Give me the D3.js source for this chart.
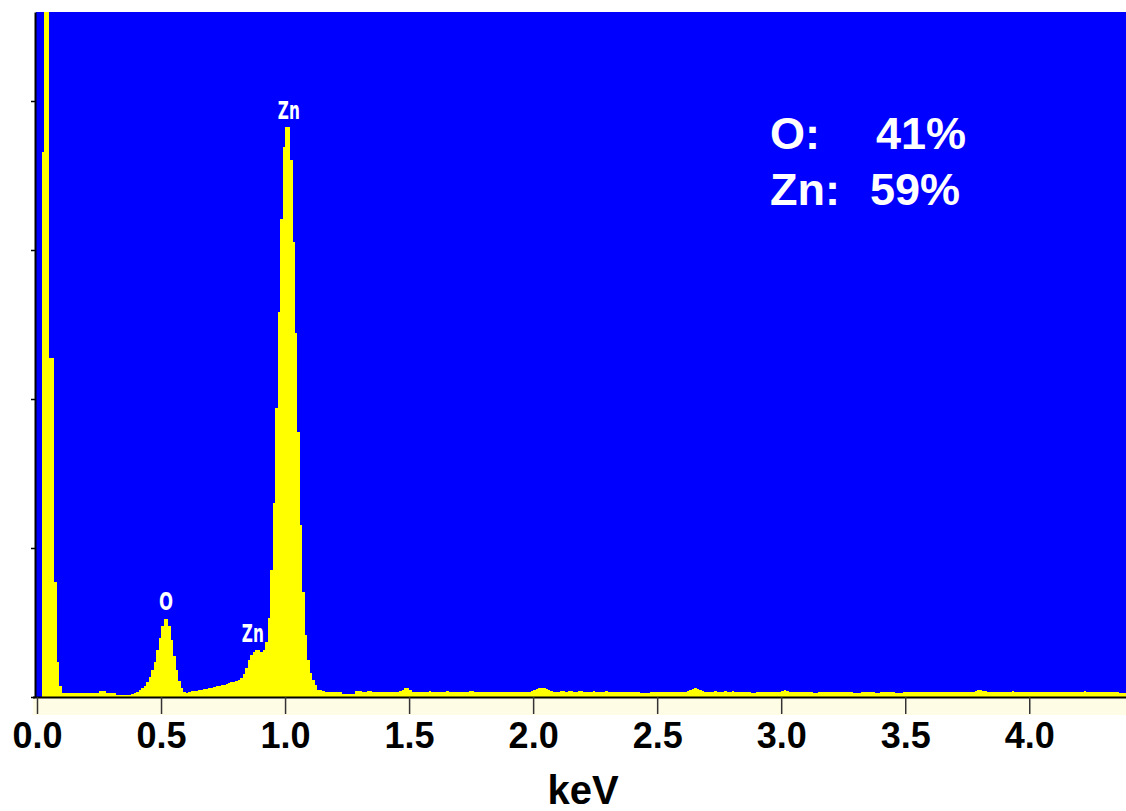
<!DOCTYPE html>
<html>
    <head>
        <meta charset="utf-8">
        <script src="https://d3js.org/d3.v7.min.js"></script>
        <style>
         body { margin: 0; background: #fff; }
         svg { display: block; }
        </style>
    </head>
    <body>
        <div id="viz"></div>

        <script type="text/javascript">

         // channel width of the spectrum, keV
         var channelWidth = 0.01;

         // counts per channel, 0.00 - 1.15 keV
         var countsLow = [
             0, 0, 3657, 9000, 9000, 2275, 2275, 772, 235, 74,
             27, 27, 27, 27, 27, 27, 27, 27, 27, 27,
             27, 27, 27, 27, 27, 40, 40, 40, 27, 27,
             27, 27, 13, 13, 13, 13, 13, 13, 20, 27,
             34, 47, 60, 74, 101, 134, 181, 235, 315, 396,
             477, 523, 523, 477, 383, 275, 181, 107, 60, 34,
             27, 34, 40, 40, 40, 47, 47, 54, 54, 60,
             60, 67, 74, 74, 81, 81, 87, 94, 101, 101,
             107, 114, 128, 154, 195, 248, 282, 302, 315, 315,
             302, 315, 369, 530, 852, 1302, 1939, 2583, 3207, 3691,
             3825, 3825, 3603, 3053, 2442, 1778, 1154, 705, 416, 248,
             161, 114, 81, 47, 47, 40
         ];

         // counts per channel, 1.16 - 4.39 keV (background)
         var countsHigh = [
             34, 34, 34, 34, 34, 34, 34, 20, 20, 20, 20, 20, 40, 40, 40, 34, 34, 40, 40, 34,
             34, 34, 34, 34, 34, 34, 34, 34, 34, 34, 40, 47, 60, 60, 47, 34, 34, 34, 34, 34,
             34, 34, 40, 34, 34, 34, 34, 34, 34, 40, 34, 34, 34, 34, 34, 34, 34, 34, 40, 40,
             34, 34, 34, 34, 34, 34, 34, 34, 34, 34, 34, 34, 34, 34, 34, 34, 34, 34, 34, 34,
             34, 34, 34, 40, 47, 54, 60, 60, 60, 54, 47, 40, 34, 34, 34, 40, 40, 34, 40, 40,
             34, 34, 40, 40, 34, 34, 34, 34, 40, 34, 34, 34, 34, 40, 34, 34, 34, 34, 34, 34,
             34, 34, 34, 34, 34, 34, 34, 27, 27, 27, 27, 34, 34, 34, 34, 34, 34, 34, 34, 34,
             34, 34, 34, 34, 34, 34, 40, 47, 54, 60, 54, 47, 40, 34, 34, 34, 34, 40, 34, 34,
             34, 40, 34, 34, 40, 34, 34, 34, 34, 34, 34, 34, 27, 27, 34, 34, 34, 34, 34, 34,
             34, 34, 34, 34, 40, 47, 40, 34, 34, 34, 34, 34, 34, 34, 34, 34, 34, 27, 27, 34,
             34, 34, 34, 34, 34, 34, 34, 34, 34, 34, 34, 34, 34, 27, 27, 27, 34, 34, 34, 34,
             34, 34, 27, 27, 34, 34, 34, 34, 34, 34, 27, 27, 27, 34, 34, 34, 34, 34, 34, 34,
             34, 34, 34, 34, 34, 34, 34, 34, 34, 34, 34, 34, 34, 34, 34, 34, 34, 34, 34, 34,
             34, 34, 40, 47, 47, 40, 40, 34, 34, 34, 34, 34, 34, 34, 34, 34, 34, 40, 34, 34,
             34, 34, 34, 34, 34, 34, 34, 34, 34, 34, 34, 34, 34, 34, 34, 34, 34, 34, 34, 34,
             34, 34, 34, 34, 34, 34, 40, 34, 34, 34, 34, 34, 34, 34, 34, 34, 34, 34, 34, 34,
             27, 27, 27, 27
         ];

         var xTicks = [0, 0.5, 1.0, 1.5, 2.0, 2.5, 3.0, 3.5, 4.0];
         var yTicks = [0, 1000, 2000, 3000, 4000];

         // peak labels: element, energy (keV), counts at the label baseline
         var peakNames = ["O", "Zn", "Zn"];
         var peakEnergy = [0.52, 0.87, 1.015];
         var peakCounts = [584, 369, 3880];

         // composition box
         var elements = ["O:", "Zn:"];
         var percents = ["41%", "59%"];

         var counts = countsLow.concat(countsHigh);
         var spectrum = counts.map(function(c, i) { return {e: i * channelWidth, c: c}; });
         spectrum.push({e: counts.length * channelWidth, c: counts[counts.length - 1]});

         // (window.top is reserved, so plot edges get their own names)
         var W = 1126, H = 811;
         var plotLeft = 36, plotTop = 12, plotBottom = 697;

         var svg = d3.select("#viz")
                     .append("svg")
                     .attr("width", W)
                     .attr("height", H);

         var x = d3.scaleLinear().domain([0, 4.39]).range([37, 1126]);
         var y = d3.scaleLinear().domain([0, (plotBottom - plotTop) / 149 * 1000]).range([plotBottom, plotTop]);

         svg.append("clipPath").attr("id", "plot")
            .append("rect")
            .attr("x", plotLeft).attr("y", plotTop)
            .attr("width", W - plotLeft).attr("height", plotBottom - plotTop);

         // blue background
         svg.append("rect")
            .attr("x", plotLeft).attr("y", plotTop)
            .attr("width", W - plotLeft).attr("height", plotBottom - plotTop)
            .style("fill", "#0000ff");

         // cream strip under the axis
         svg.append("rect")
            .attr("x", 33).attr("y", plotBottom)
            .attr("width", W - 33).attr("height", 18)
            .style("fill", "#fffce6");

         // histogram steps snapped to whole pixels, like the instrument bitmap
         var area = d3.area()
                      .curve(d3.curveStepAfter)
                      .x(function(d) { return Math.round(x(d.e)); })
                      .y0(y(0))
                      .y1(function(d) { return Math.round(y(d.c)); });

         svg.append("path")
            .datum(spectrum)
            .attr("clip-path", "url(#plot)")
            .attr("d", area)
            .attr("shape-rendering", "crispEdges")
            .style("fill", "#ffff00");

         // axes
         var xAxis = svg.append("g")
                        .attr("transform", "translate(0," + plotBottom + ")")
                        .call(d3.axisBottom(x)
                                .tickValues(xTicks)
                                .tickSize(17)
                                .tickSizeOuter(0)
                                .tickPadding(8)
                                .tickFormat(d3.format(".1f")));
         xAxis.select(".domain").attr("d", "M33,0.5H" + W).style("stroke", "#000").style("stroke-width", 2);
         xAxis.selectAll(".tick line").style("stroke", "#333").style("stroke-width", 1.5);
         xAxis.selectAll("text")
              .style("font-family", "'Liberation Sans', Arial, sans-serif")
              .style("font-weight", "bold")
              .style("font-size", "36px")
              .style("fill", "#000");

         var yAxis = svg.append("g")
                        .attr("transform", "translate(35,0)")
                        .call(d3.axisLeft(y)
                                .tickValues(yTicks)
                                .tickSize(4)
                                .tickSizeOuter(0)
                                .tickFormat(""));
         yAxis.select(".domain").style("stroke", "#000").style("stroke-width", 2);
         yAxis.selectAll(".tick line").style("stroke", "#000").style("stroke-width", 1.5);

         svg.append("text")
            .attr("x", 583).attr("y", 804)
            .attr("text-anchor", "middle")
            .style("font-family", "'Liberation Sans', Arial, sans-serif")
            .style("font-weight", "bold")
            .style("font-size", "40px")
            .text("keV");

         // peak labels
         svg.selectAll(".peak")
            .data(peakNames)
            .enter().append("text")
            .attr("class", "peak")
            .attr("x", function(d, i) { return x(peakEnergy[i]); })
            .attr("y", function(d, i) { return y(peakCounts[i]); })
            .attr("text-anchor", "middle")
            .attr("textLength", function(d) { return d.length > 1 ? 22 : 14; })
            .attr("lengthAdjust", "spacingAndGlyphs")
            .style("font-family", "'DejaVu Sans Condensed', 'DejaVu Sans', sans-serif")
            .style("font-size", "25px")
            .style("font-weight", "bold")
            .style("fill", "#fff")
            .text(function(d) { return d; });

         // composition text
         var comp = svg.append("g")
                       .style("font-family", "'Liberation Sans', Arial, sans-serif")
                       .style("font-weight", "bold")
                       .style("font-size", "45px")
                       .style("fill", "#fff");
         comp.selectAll(".el")
             .data(elements)
             .enter().append("text")
             .attr("x", 770)
             .attr("y", function(d, i) { return 149 + i * 56; })
             .text(function(d) { return d; });
         comp.selectAll(".pc")
             .data(percents)
             .enter().append("text")
             .attr("x", function(d, i) { return i == 0 ? 876 : 870; })
             .attr("y", function(d, i) { return 149 + i * 56; })
             .text(function(d) { return d; });

        </script>
    </body>
</html>
